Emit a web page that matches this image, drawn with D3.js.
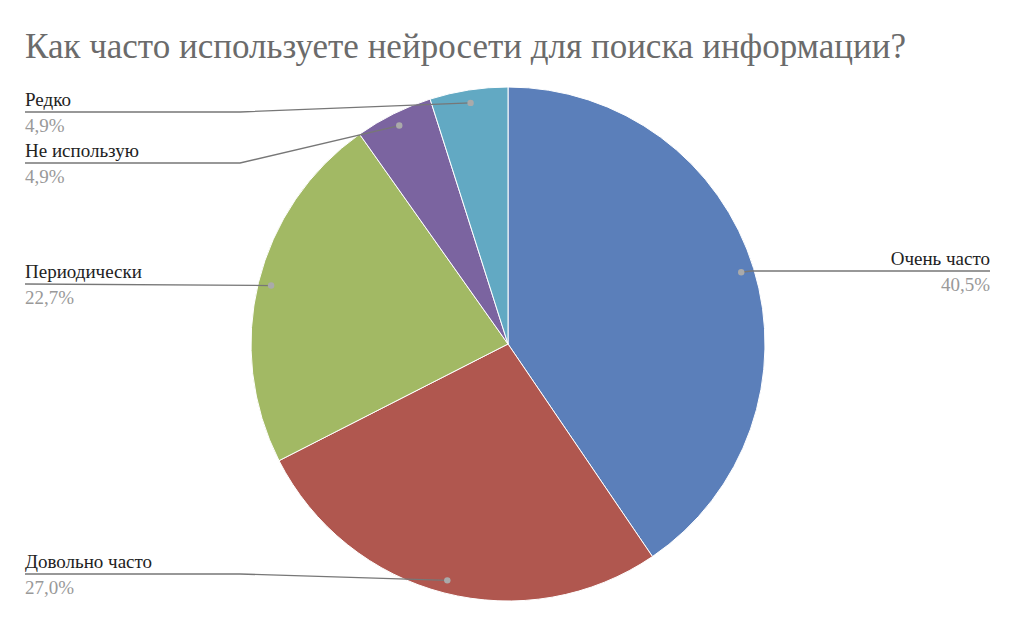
<!DOCTYPE html>
<html><head><meta charset="utf-8">
<script src="https://cdn.jsdelivr.net/npm/d3@7"></script>
<style>body{margin:0;background:#fff}</style></head>
<body><svg id="c" width="1014" height="624"></svg>
<script>
const categories=["Очень часто","Довольно часто","Периодически","Не использую","Редко"];
const values=[40.5,27.0,22.7,4.9,4.9];
const percentLabels=["40,5%","27,0%","22,7%","4,9%","4,9%"];
const colors=["#5b7fba","#b0574f","#a2b964","#7b64a0","#62a9c3"];
// label placement: side and label line y
const labelSide=["right","left","left","left","left"];
const labelLineY=[271,574,284,163,112];

const svg=d3.select("#c");
const cx=508,cy=344,r=257;
svg.append("text").attr("x",25).attr("y",58).attr("font-family","Liberation Serif")
 .attr("font-size",35).attr("fill","#6b6b6b").text("Как часто используете нейросети для поиска информации?");
const pie=d3.pie().sort(null).value(d=>d)(values);
const arc=d3.arc().innerRadius(0).outerRadius(r);
const g=svg.append("g").attr("transform",`translate(${cx},${cy})`);
g.selectAll("path").data(pie).join("path").attr("d",arc).attr("fill",(d,i)=>colors[i])
 .attr("stroke","#fff").attr("stroke-width",1);
const inner=d3.arc().innerRadius(244).outerRadius(244);
pie.forEach((d,i)=>{
  const [px,py]=inner.centroid(d); const x=cx+px,y=cy+py;
  const ly=labelLineY[i];
  let pts;
  if(labelSide[i]==="right") pts=[[x,y],[990,ly]];
  else pts=(Math.abs(ly-y)<3)?[[x,y],[25,ly]]:[[x,y],[240,ly],[25,ly]];
  if(labelSide[i]==="right") pts=[[x,y],[x+10,ly],[990,ly]];
  svg.append("path").attr("d",d3.line()(pts)).attr("fill","none").attr("stroke","#777").attr("stroke-width",1.3);
  svg.append("circle").attr("cx",x).attr("cy",y).attr("r",3.2).attr("fill","#aaa");
  const tx=labelSide[i]==="right"?990:25, anchor=labelSide[i]==="right"?"end":"start";
  svg.append("text").attr("x",tx).attr("y",ly-6).attr("text-anchor",anchor).attr("font-family","Liberation Serif")
    .attr("font-size",19).attr("fill","#222").text(categories[i]);
  svg.append("text").attr("x",tx).attr("y",ly+20).attr("text-anchor",anchor).attr("font-family","Liberation Serif")
    .attr("font-size",19).attr("fill","#999").text(percentLabels[i]);
});
</script></body></html>
